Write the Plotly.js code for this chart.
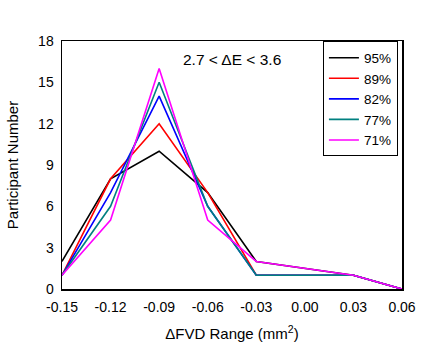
<!DOCTYPE html>
<html>
<head>
<meta charset="utf-8">
<script src="https://cdn.plot.ly/plotly-3.0.1.min.js"></script>
<style>html,body{margin:0;padding:0;background:#fff;}#chart{width:425px;height:347px;}</style>
</head>
<body>
<div id="chart"></div>
<script>
const xValues = [-0.15, -0.12, -0.09, -0.06, -0.03, 0.03, 0.06];
const seriesNames = ["95%", "89%", "82%", "77%", "71%"];
const seriesColors = ["#000000", "#ff0000", "#0000ff", "#008080", "#ff00ff"];
const s95 = [2, 8, 10, 7, 2, 1, 0];
const s89 = [1, 8, 12, 7, 1, 1, 0];
const s82 = [1, 7, 14, 6, 1, 1, 0];
const s77 = [1, 6, 15, 6, 1, 1, 0];
const s71 = [1, 5, 16, 5, 2, 1, 0];
const allSeries = [s95, s89, s82, s77, s71];
const xTicks = [-0.15, -0.12, -0.09, -0.06, -0.03, 0.00, 0.03, 0.06];
const xTickLabels = ["-0.15", "-0.12", "-0.09", "-0.06", "-0.03", "0.00", "0.03", "0.06"];
const yTicks = [0, 3, 6, 9, 12, 15, 18];

const traces = allSeries.map((ys, i) => ({
  x: xValues, y: ys, type: 'scatter', mode: 'lines',
  name: seriesNames[i],
  line: {color: seriesColors[i], width: 1.6},
  cliponaxis: false
}));

const font = {family: 'Liberation Sans, Arial, sans-serif', color: '#000'};
const layout = {
  width: 425, height: 347,
  margin: {l: 62, r: 23, t: 41, b: 58},
  paper_bgcolor: '#fff', plot_bgcolor: '#fff',
  font: Object.assign({size: 14}, font),
  showlegend: true,
  legend: {
    x: 0.988, y: 0.998, xanchor: 'right', yanchor: 'top',
    bordercolor: '#000', borderwidth: 1, bgcolor: '#fff',
    font: Object.assign({size: 13.5}, font),
    tracegroupgap: 0, itemwidth: 30
  },
  xaxis: {
    range: [-0.15, 0.06], tickvals: xTicks, ticktext: xTickLabels,
    showgrid: false, zeroline: false, showline: true, mirror: true,
    linecolor: '#000', linewidth: 1.5, ticks: 'outside', ticklen: 5,
    tickcolor: 'rgba(0,0,0,0)',
    tickfont: Object.assign({size: 14}, font),
    title: {text: 'ΔFVD Range (mm<sup>2</sup>)', font: Object.assign({size: 15}, font), standoff: 14}
  },
  yaxis: {
    range: [0, 18], tickvals: yTicks,
    showgrid: false, zeroline: false, showline: true, mirror: true,
    linecolor: '#000', linewidth: 1.5, ticks: 'outside', ticklen: 4,
    tickcolor: 'rgba(0,0,0,0)',
    tickfont: Object.assign({size: 14}, font),
    title: {text: 'Participant Number', font: Object.assign({size: 15}, font), standoff: 16}
  },
  annotations: [{
    text: '2.7 < ΔE < 3.6', xref: 'paper', yref: 'paper',
    x: 0.50, y: 0.925, xanchor: 'center', yanchor: 'middle',
    showarrow: false, font: Object.assign({size: 15.5}, font)
  }]
};
Plotly.newPlot('chart', traces, layout, {displayModeBar: false, staticPlot: true});
</script>
</body>
</html>
